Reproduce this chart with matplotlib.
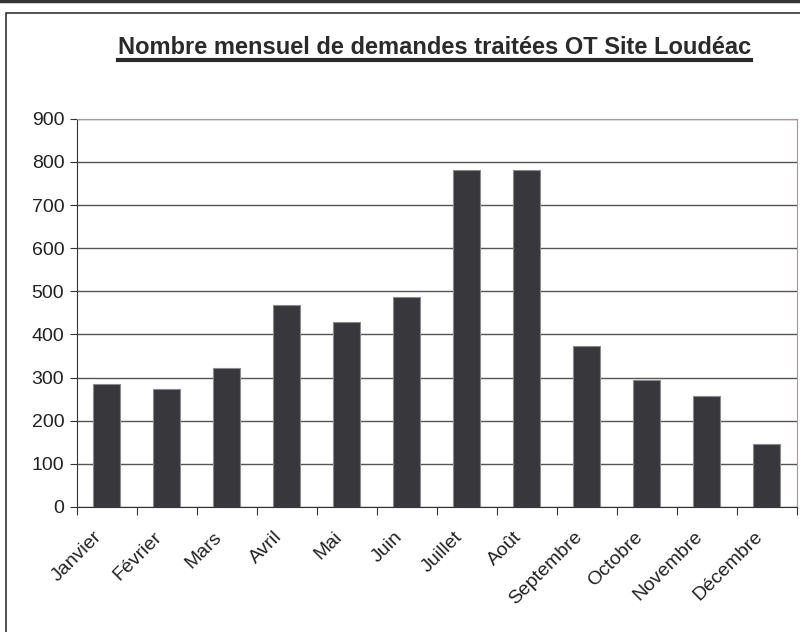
import numpy as np
import matplotlib.pyplot as plt
from matplotlib.lines import Line2D
from matplotlib.patches import Rectangle

months = ["Janvier", "Février", "Mars", "Avril", "Mai", "Juin", "Juillet",
          "Août", "Septembre", "Octobre", "Novembre", "Décembre"]
demandes = [284, 273, 322, 469, 429, 486, 782, 782, 373, 295, 258, 146]
yticks = [0, 100, 200, 300, 400, 500, 600, 700, 800, 900]

plt.rcParams['font.family'] = ['Liberation Sans', 'DejaVu Sans']

fig = plt.figure(figsize=(8, 6.32), dpi=100)
ax = fig.add_axes([0.096, 0.198, 0.9, 0.614])

x = np.arange(len(months))
ax.bar(x, demandes, width=0.45, color='#38383c', edgecolor='#8a8a8a',
       linewidth=0.8, zorder=3)

ax.set_xlim(-0.5, len(months) - 0.5)
ax.set_ylim(0, 900)
ax.set_yticks(yticks)
ax.set_yticklabels([str(v) for v in yticks], fontsize=14, color='#222222')
ax.yaxis.grid(True, color='#555555', linewidth=1, zorder=0)

# ticks between categories, labels placed by hand under each bar
ax.set_xticks(np.arange(len(months) + 1) - 0.5)
ax.set_xticklabels([])
for i, m in enumerate(months):
    ax.annotate(m, xy=(i, 0), xycoords=('data', 'axes fraction'),
                xytext=(-9.5, -15.5), textcoords='offset points',
                rotation=45, ha='right', va='top', rotation_mode='anchor',
                fontsize=14, color='#222222')
ax.tick_params(axis='x', which='major', length=6, color='#333333')
ax.tick_params(axis='y', length=5, color='#333333', pad=4)

for side in ['top', 'right']:
    ax.spines[side].set_color('#a39a98')
for side in ['left', 'bottom']:
    ax.spines[side].set_color('#333333')

# title with underline
title = fig.text(0.543, 0.914, "Nombre mensuel de demandes traitées OT Site Loudéac",
                 ha='center', va='baseline', fontsize=17, fontweight='bold',
                 color='#2a2a2a')
fig.canvas.draw()
bb = title.get_window_extent().transformed(fig.transFigure.inverted())
fig.add_artist(Line2D([bb.x0, bb.x1], [0.905, 0.905], color='#2a2a2a',
                      linewidth=3, transform=fig.transFigure))

# outer frame
fig.add_artist(Line2D([0, 1], [0.998, 0.998], color='#333333', linewidth=2.5,
                      transform=fig.transFigure))
fig.add_artist(Rectangle((0.0075, -0.01), 1.1, 0.99, fill=False,
                         edgecolor='#333333', linewidth=1.2,
                         transform=fig.transFigure))

fig.savefig("out.png", dpi=100)
